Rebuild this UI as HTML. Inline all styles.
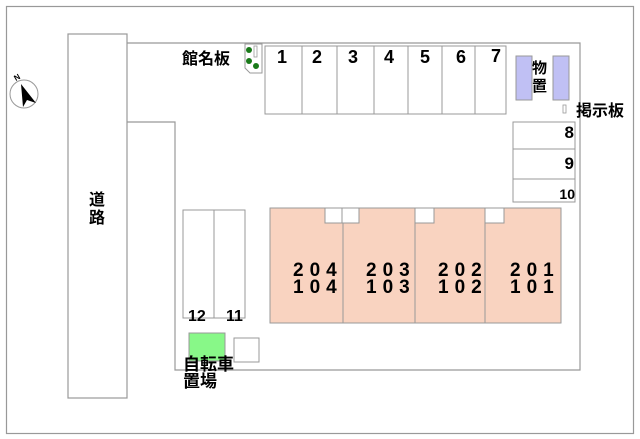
<!DOCTYPE html>
<html><head><meta charset="utf-8"><style>
html,body{margin:0;padding:0;background:#fff;}
svg{display:block;}
text{font-family:"Liberation Sans","Noto Sans CJK JP",sans-serif;font-weight:bold;fill:#000;}
</style></head><body>
<svg width="640" height="439" viewBox="0 0 640 439" xmlns="http://www.w3.org/2000/svg">
<g fill="none" stroke="#999" stroke-width="1.2">
<rect x="6.5" y="6.5" width="627" height="427"/>
<rect x="68" y="34" width="59" height="364"/>
<polyline points="127,43 580,43 580,370 175,370 175,122 127,122"/>
</g>
<circle cx="24" cy="94" r="14" fill="#fff" stroke="#999"/>
<polygon points="21,84 36,103 27,100 23,107" fill="#000"/>
<text x="14" y="80" font-size="8" font-weight="normal" transform="rotate(-30 17 77)">N</text>
<text x="97" y="205" font-size="16" text-anchor="middle">道</text>
<text x="97" y="223" font-size="16" text-anchor="middle">路</text>
<path d="M245,44 H262 V73 H250 L245,68 Z" fill="#fff" stroke="#999"/>
<rect x="254" y="46" width="3" height="11" fill="#fff" stroke="#999" stroke-width="0.8"/>
<circle cx="249" cy="50" r="3" fill="#1a7a1a"/>
<circle cx="249" cy="61" r="3" fill="#1a7a1a"/>
<circle cx="256" cy="66" r="3" fill="#1a7a1a"/>
<text x="182" y="64" font-size="16">館名板</text>
<g fill="#fff" stroke="#999">
<rect x="265" y="46" width="37" height="68"/>
<rect x="302" y="46" width="35" height="68"/>
<rect x="337" y="46" width="37" height="68"/>
<rect x="374" y="46" width="34" height="68"/>
<rect x="408" y="46" width="34" height="68"/>
<rect x="442" y="46" width="33" height="68"/>
<rect x="475" y="46" width="31" height="68"/>
</g>
<g font-size="18">
<text x="277" y="63">1</text><text x="312" y="63">2</text><text x="348" y="63">3</text>
<text x="384" y="63">4</text><text x="420" y="63">5</text><text x="456" y="63">6</text><text x="491" y="62">7</text>
</g>
<rect x="516" y="56" width="16" height="44" fill="#c0c0f4" stroke="#999"/>
<rect x="553" y="56" width="16" height="44" fill="#c0c0f4" stroke="#999"/>
<text x="532" y="73" font-size="15">物</text>
<text x="532" y="91" font-size="15">置</text>
<rect x="563" y="105" width="3" height="8" fill="#fff" stroke="#999" stroke-width="0.8"/>
<text x="576" y="116" font-size="16">掲示板</text>
<g fill="#fff" stroke="#999">
<rect x="513" y="122" width="62" height="27"/>
<rect x="513" y="149" width="62" height="30"/>
<rect x="513" y="179" width="62" height="23"/>
</g>
<text x="574" y="138" font-size="17" text-anchor="end">8</text>
<text x="574" y="169" font-size="17" text-anchor="end">9</text>
<text x="575" y="199" font-size="14" text-anchor="end">10</text>
<g fill="#f9d3c0" stroke="#999">
<rect x="270" y="208" width="73" height="115"/>
<rect x="343" y="208" width="72" height="115"/>
<rect x="415" y="208" width="70" height="115"/>
<rect x="485" y="208" width="76" height="115"/>
</g>
<g fill="#fff" stroke="#999">
<rect x="325" y="208" width="17" height="15"/>
<rect x="342" y="208" width="17" height="15"/>
<rect x="415" y="208" width="19" height="15"/>
<rect x="485" y="208" width="19" height="15"/>
</g>
<g font-size="19" font-weight="normal" letter-spacing="6">
<text x="293" y="276">204</text><text x="293" y="293">104</text>
<text x="366" y="276">203</text><text x="366" y="293">103</text>
<text x="438" y="276">202</text><text x="438" y="293">102</text>
<text x="510" y="276">201</text><text x="510" y="293">101</text>
</g>
<g fill="#fff" stroke="#999">
<rect x="183" y="210" width="31" height="108"/>
<rect x="214" y="210" width="31" height="108"/>
</g>
<text x="188" y="321" font-size="16" font-weight="normal">12</text>
<text x="226" y="321" font-size="16" font-weight="normal">11</text>
<rect x="189" y="333" width="36" height="28" fill="#88f888" stroke="#999"/>
<rect x="234" y="338" width="25" height="24" fill="#fff" stroke="#999"/>
<text x="183" y="370" font-size="17">自転車</text>
<text x="183" y="387" font-size="17">置場</text>
</svg>
</body></html>
